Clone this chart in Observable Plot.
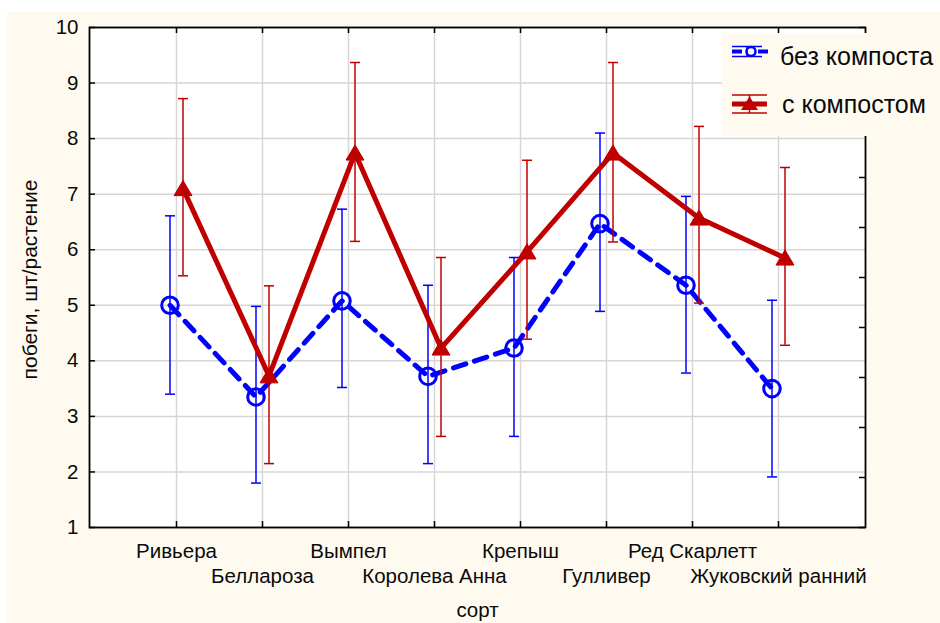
<!DOCTYPE html>
<html><head><meta charset="utf-8">
<script src="https://cdn.jsdelivr.net/npm/d3@7"></script>
<script src="https://cdn.jsdelivr.net/npm/@observablehq/plot@0.6"></script>
<style>
body{margin:0;background:#fff;font-family:"Liberation Sans",Arial,sans-serif;}
#wrap{position:relative;width:940px;height:623px;overflow:hidden;background:#fff}
#chart{position:absolute;left:7px;top:12px}
#legend{position:absolute;left:722px;top:33px;width:218px;height:103px;background:#fffaf0}
</style></head><body>
<div id="wrap"><div id="chart"></div><div id="legend"></div></div>
<script>
const categories = ["Ривьера","Беллароза","Вымпел","Королева Анна","Крепыш","Гулливер","Ред Скарлетт","Жуковский ранний"];
const seriesNames = ["без компоста","с компостом"];
const meanNo  = [5.0, 3.35, 5.08, 3.72, 4.23, 6.47, 5.36, 3.5];
const lowNo   = [3.40, 1.80, 3.52, 2.15, 2.64, 4.89, 3.78, 1.91];
const highNo  = [6.61, 4.98, 6.73, 5.36, 5.86, 8.10, 6.96, 5.09];
const meanYes = [7.10, 3.73, 7.74, 4.23, 5.96, 7.74, 6.57, 5.85];
const lowYes  = [5.53, 2.15, 6.15, 2.64, 4.39, 6.14, 5.04, 4.28];
const highYes = [8.72, 5.35, 9.37, 5.86, 7.61, 9.37, 8.22, 7.48];
const yTicks = [1,2,3,4,5,6,7,8,9,10];
const rightTicks = [1,1.9,2.8,3.7,4.6,5.5,6.4,7.3,8.2,9.1,10];
const xLabel = "сорт";
const yLabel = "побеги, шт/растение";

const BLUE = "#0000ff", RED = "#c00000";
const rowsNo = categories.map((c,i)=>({cat:c, mean:meanNo[i], low:lowNo[i], high:highNo[i]}));
const rowsYes = categories.map((c,i)=>({cat:c, mean:meanYes[i], low:lowYes[i], high:highYes[i]}));

const capSymbol = {draw(ctx, size){const r=Math.sqrt(size/Math.PI); ctx.moveTo(-r,0); ctx.lineTo(r,0);}};
const triSymbol = {draw(ctx, size){const r=Math.sqrt(size/Math.PI); ctx.moveTo(0,-0.9*r); ctx.lineTo(r,0.78*r); ctx.lineTo(-r,0.78*r); ctx.closePath();}};

function series(rows, color, dx, dashed, marker){
  return [
    Plot.ruleX(rows, {x:"cat", y1:"low", y2:"high", dx, stroke:color, strokeWidth:1.5}),
    Plot.dot(rows, {x:"cat", y:"low", dx, symbol:capSymbol, r:5, stroke:color, strokeWidth:1.5}),
    Plot.dot(rows, {x:"cat", y:"high", dx, symbol:capSymbol, r:5, stroke:color, strokeWidth:1.5}),
    Plot.line(rows, {x:"cat", y:"mean", dx, stroke:color, strokeWidth:5, strokeDasharray: dashed ? "13,9" : null}),
    marker === "circle"
      ? Plot.dot(rows, {x:"cat", y:"mean", dx, r:8.3, stroke:color, strokeWidth:3, fill:"none"})
      : Plot.dot(rows, {x:"cat", y:"mean", dx, r:9, symbol:triSymbol, fill:color, stroke:color, strokeWidth:1})
  ];
}

const W = 933, H = 611, ML = 82, MT = 15, MR = 75, MB = 96;
const PW = W-ML-MR, PH = H-MT-MB;

const chart = Plot.plot({
  width: W, height: H,
  marginLeft: ML, marginTop: MT, marginRight: MR, marginBottom: MB,
  style: {fontFamily: "Liberation Sans, Arial, sans-serif", background: "#fffaf0", color: "#0a0a0a", overflow: "visible"},
  x: {type: "point", domain: categories, padding: 1},
  y: {domain: [1, 10]},
  marks: [
    Plot.frame({fill: "white", stroke: null}),
    Plot.gridX({stroke: "#d6d6d6", strokeOpacity: 1, strokeWidth: 1.5}),
    Plot.gridY({ticks: yTicks, stroke: "#d6d6d6", strokeOpacity: 1, strokeWidth: 1.5}),
    Plot.ruleY(yTicks, {y: d => d, insetRight: PW - 6, stroke: "#000", strokeWidth: 1.5}),
    Plot.ruleY(rightTicks, {y: d => d, insetLeft: PW - 6, stroke: "#000", strokeWidth: 1.5}),
    Plot.ruleX(categories, {x: d => d, insetTop: PH - 6, stroke: "#000", strokeWidth: 1.5}),
    Plot.ruleX(categories, {x: d => d, insetBottom: PH - 6, stroke: "#000", strokeWidth: 1.5}),
    ...series(rowsNo, BLUE, -6.5, true, "circle"),
    ...series(rowsYes, RED, 6.5, false, "triangle"),
    Plot.frame({stroke: "#000", strokeWidth: 1.8}),
    Plot.axisY({ticks: yTicks, tickSize: 0, tickPadding: 11, fontSize: 20.5, label: null}),
    Plot.axisX({tickSize: 0, tickPadding: 15.5, fontSize: 20.5, label: null,
      tickFormat: d => categories.indexOf(d) % 2 === 0 ? d : ""}),
    Plot.axisX({tickSize: 0, tickPadding: 40.5, fontSize: 20.5, label: null,
      tickFormat: d => categories.indexOf(d) % 2 === 1 ? d : ""}),
    Plot.text([yLabel], {frameAnchor: "left", textAnchor: "middle", dx: -59, dy: 2, rotate: -90, fontSize: 21, fill: "#0a0a0a"}),
    Plot.text([xLabel], {frameAnchor: "bottom", textAnchor: "middle", dy: 89.5, fontSize: 20.5, fill: "#0a0a0a"})
  ]
});
document.getElementById("chart").appendChild(chart);

// legend
const lg = d3.select("#legend").append("svg").attr("width", 218).attr("height", 103)
  .style("font-family", "Liberation Sans, Arial, sans-serif");
const b = lg.append("g");
b.append("line").attr("x1",10).attr("x2",40).attr("y1",13.5).attr("y2",13.5).attr("stroke",BLUE).attr("stroke-width",1.5);
b.append("line").attr("x1",10).attr("x2",40).attr("y1",23.5).attr("y2",23.5).attr("stroke",BLUE).attr("stroke-width",1.5);
b.append("line").attr("x1",25).attr("x2",25).attr("y1",13.5).attr("y2",23.5).attr("stroke",BLUE).attr("stroke-width",1.5);
b.append("line").attr("x1",10).attr("x2",46).attr("y1",18.5).attr("y2",18.5).attr("stroke",BLUE).attr("stroke-width",4).attr("stroke-dasharray","10,16");
b.append("circle").attr("cx",29).attr("cy",18.5).attr("r",4.5).attr("fill","none").attr("stroke",BLUE).attr("stroke-width",2.5);
lg.append("text").attr("x",58).attr("y",32).attr("font-size",25).attr("fill","#0a0a0a").text(seriesNames[0]);
const r = lg.append("g");
r.append("line").attr("x1",10).attr("x2",45).attr("y1",62).attr("y2",62).attr("stroke",RED).attr("stroke-width",1.5);
r.append("line").attr("x1",10).attr("x2",45).attr("y1",80).attr("y2",80).attr("stroke",RED).attr("stroke-width",1.5);
r.append("line").attr("x1",27.5).attr("x2",27.5).attr("y1",62).attr("y2",80).attr("stroke",RED).attr("stroke-width",1.5);
r.append("line").attr("x1",10).attr("x2",45).attr("y1",71).attr("y2",71).attr("stroke",RED).attr("stroke-width",5);
r.append("path").attr("d","M27.5,63.5L36,77L19,77Z").attr("fill",RED);
lg.append("text").attr("x",60).attr("y",80).attr("font-size",25).attr("fill","#0a0a0a").text(seriesNames[1]);
</script>
</body></html>
